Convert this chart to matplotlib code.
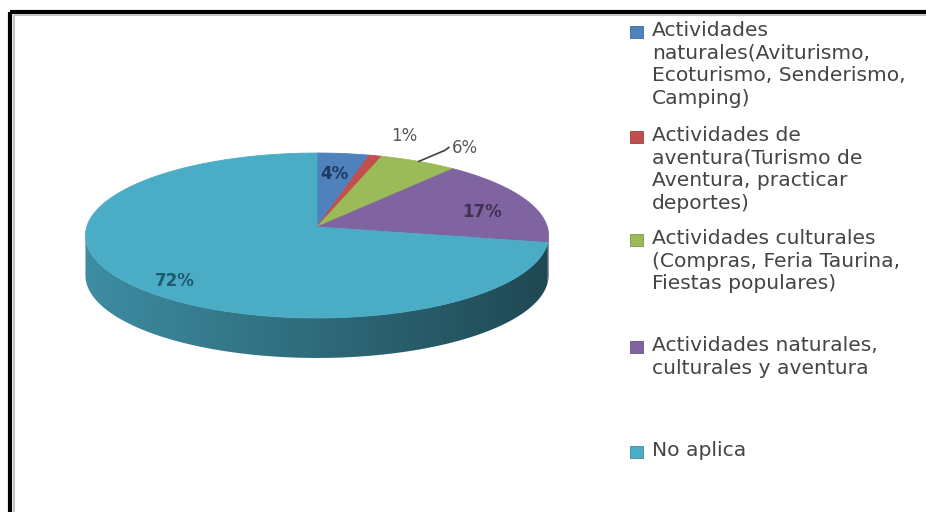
import numpy as np
import matplotlib.pyplot as plt
from matplotlib.patches import Polygon, Rectangle
from matplotlib.colors import to_rgb, LinearSegmentedColormap

# datos de la encuesta
categorias = [
    'Actividades\nnaturales(Aviturismo,\nEcoturismo, Senderismo,\nCamping)',
    'Actividades de\naventura(Turismo de\nAventura, practicar\ndeportes)',
    'Actividades culturales\n(Compras, Feria Taurina,\nFiestas populares)',
    'Actividades naturales,\nculturales y aventura',
    'No aplica',
]
porcentajes = [4, 1, 6, 17, 72]
colores = ['#4f81bd', '#c0504d', '#9bbb59', '#8064a2', '#4bacc6']
color_texto = ['#1f3864', '#595959', '#595959', '#3f3151', '#1d5a6e']
etiqueta_fuera = [False, True, True, False, False]

# geometria del pastel en perspectiva (pixeles)
W, H = 926, 512
cx, cy = 317, 227
sx, sy = 230.3, 81.6
k = 0.103
prof = 40


def proyectar(r, ang, dz=0.0):
    t = np.radians(ang)
    u = r * np.sin(t)
    v = r * np.cos(t)
    w = 1 + k * v
    return cx + sx * u / w, cy - sy * v / w + dz


def oscurecer(c, f):
    return tuple(np.array(to_rgb(c)) * f)


fig = plt.figure(figsize=(W / 100, H / 100), dpi=100)
ax = fig.add_axes([0, 0, 1, 1])
ax.set_xlim(0, W)
ax.set_ylim(H, 0)
ax.axis('off')

# marco
ax.add_patch(Rectangle((10, 12), W + 20, H + 20, fill=False, ec='black', lw=3))
ax.add_patch(Rectangle((13.5, 15), W + 20, H + 20, fill=False, ec='#c4c4c4', lw=1.5))

bordes = np.concatenate([[0], np.cumsum(porcentajes)]) * 3.6
lim_izq = 270 - np.degrees(np.arcsin(k))
lim_der = 90 + np.degrees(np.arcsin(k))
x_min, _ = proyectar(1, lim_izq)
x_max, _ = proyectar(1, lim_der)

# pared lateral
for i in range(len(porcentajes)):
    a0 = max(bordes[i], lim_der)
    a1 = min(bordes[i + 1], lim_izq)
    if a1 <= a0:
        continue
    angs = np.linspace(a0, a1, 80)
    arriba = [proyectar(1, a) for a in angs]
    abajo = [proyectar(1, a, prof) for a in angs[::-1]]
    poly = Polygon(arriba + abajo, closed=True, fc='none', ec='none')
    ax.add_patch(poly)
    cmap = LinearSegmentedColormap.from_list(
        'lado', [oscurecer(colores[i], 0.82), oscurecer(colores[i], 0.62),
                 oscurecer(colores[i], 0.42)])
    grad = np.linspace(0, 1, 256).reshape(1, -1)
    im = ax.imshow(grad, cmap=cmap, extent=(x_min, x_max, cy + 150, cy - 100),
                   aspect='auto', interpolation='bilinear')
    im.set_clip_path(poly)

# cara superior
for i in range(len(porcentajes)):
    angs = np.linspace(bordes[i], bordes[i + 1], 120)
    pts = [(cx, cy)] + [proyectar(1, a) for a in angs]
    ax.add_patch(Polygon(pts, closed=True, fc=colores[i], ec=colores[i], lw=0.6))

# etiquetas de porcentaje
ajuste = {0: (-2, 1), 1: (29, -21), 2: (30, -12), 3: (13, 4), 4: (8, 10)}
for i, p in enumerate(porcentajes):
    medio = (bordes[i] + bordes[i + 1]) / 2
    texto = f'{p}%'
    dx, dy = ajuste[i]
    if not etiqueta_fuera[i]:
        r = 0.72 if p < 50 else 0.8
        x, y = proyectar(r, medio)
        ax.text(x + dx, y + dy, texto, ha='center', va='center', fontsize=12,
                fontweight='bold', color=color_texto[i], family='DejaVu Sans')
    else:
        x, y = proyectar(1, medio)
        if i == 2:
            ax.plot([x, x + dx - 4, x + dx], [y, y + dy + 1, y + dy - 2],
                    color='#404040', lw=1.2)
            ax.text(x + dx + 3, y + dy - 1, texto, ha='left', va='center',
                    fontsize=12, color=color_texto[i], family='DejaVu Sans')
        else:
            ax.text(x + dx, y + dy + 1, texto, ha='center', va='center',
                    fontsize=12, color=color_texto[i], family='DejaVu Sans')

# leyenda
y_leyenda = [32, 137, 240, 347, 452]
for cat, col, yl in zip(categorias, colores, y_leyenda):
    ax.add_patch(Rectangle((630, yl - 6), 13, 12, fc=col,
                           ec=oscurecer(col, 0.8), lw=0.6))
    ax.text(652, yl - 11, cat, ha='left', va='top', fontsize=14.6,
            color='#454545', linespacing=1.24, family='DejaVu Sans')

fig.savefig('out.png', dpi=100)
